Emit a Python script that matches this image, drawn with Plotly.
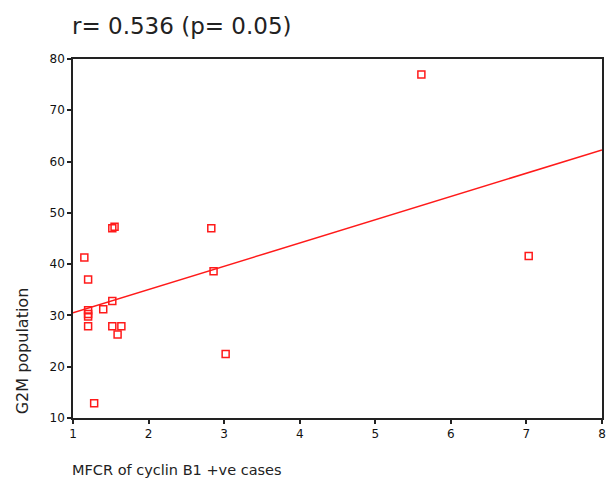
import numpy as np
import plotly.graph_objects as go

# Data
mfcr = [1.15, 1.20, 1.20, 1.20, 1.20, 1.20, 1.40, 1.52, 1.52, 1.52, 1.64, 1.59, 1.55,
        2.83, 2.86, 3.02, 1.28, 5.61, 7.03]
g2m = [41.3, 37.0, 31.0, 30.3, 29.8, 27.9, 31.2, 32.8, 27.9, 47.0, 27.9, 26.3, 47.3,
       47.0, 38.6, 22.5, 12.9, 77.0, 41.6]
x_ticks = [1, 2, 3, 4, 5, 6, 7, 8]
y_ticks = [10, 20, 30, 40, 50, 60, 70, 80]
title_text = "r= 0.536 (p= 0.05)"
x_title = "MFCR of cyclin B1 +ve cases"
y_title = "G2M population"

slope, intercept = np.polyfit(mfcr, g2m, 1)
line_x = [x_ticks[0], x_ticks[-1]]
line_y = [intercept + slope * v for v in line_x]

red = "#ff1a1a"
fig = go.Figure()
fig.add_trace(go.Scatter(x=line_x, y=line_y, mode="lines",
                         line=dict(color=red, width=1.5), hoverinfo="skip"))
fig.add_trace(go.Scatter(x=mfcr, y=g2m, mode="markers",
                         marker=dict(symbol="square-open", size=7, color=red,
                                     line=dict(width=1.5, color=red)),
                         cliponaxis=False))

axis_common = dict(showgrid=False, zeroline=False, showline=True, mirror=True,
                   linecolor="#222", linewidth=1.5, ticks="outside", ticklen=4,
                   tickcolor="#222", tickwidth=1.5,
                   tickfont=dict(family="DejaVu Sans", size=12, color="#111"))

fig.update_xaxes(range=[1, 8], tickvals=x_ticks, ticktext=[str(v) for v in x_ticks],
                 **axis_common)
fig.update_yaxes(range=[10, 80], tickvals=y_ticks, ticktext=[str(v) for v in y_ticks],
                 **axis_common)

fig.update_layout(
    width=611, height=484,
    margin=dict(l=73, r=5, t=59, b=66),
    paper_bgcolor="white", plot_bgcolor="white",
    showlegend=False,
    annotations=[
        dict(text=title_text, xref="paper", yref="paper", x=-0.005, y=1.0,
             xanchor="left", yanchor="bottom", yshift=18, showarrow=False,
             font=dict(family="DejaVu Sans", size=23, color="#222")),
        dict(text=x_title, xref="paper", yref="paper", x=-0.005, y=0,
             xanchor="left", yanchor="middle", yshift=-52, showarrow=False,
             font=dict(family="DejaVu Sans", size=14.5, color="#222")),
        dict(text=y_title, xref="paper", yref="y", x=0, y=23, xshift=-51,
             xanchor="center", yanchor="middle", textangle=-90, showarrow=False,
             font=dict(family="DejaVu Sans", size=16, color="#222")),
    ],
)

fig.write_html("out.html")
